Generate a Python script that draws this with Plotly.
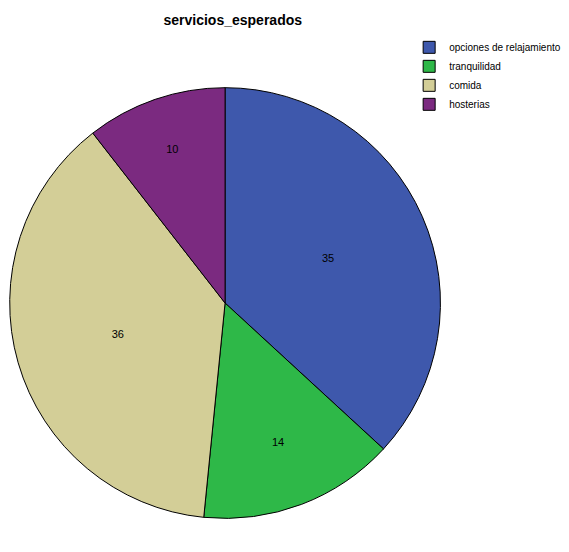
import plotly.graph_objects as go

categories = ["opciones de relajamiento", "tranquilidad", "comida", "hosterias"]
values = [35, 14, 36, 10]
colors = ["#3E58AC", "#2EB848", "#D3CE97", "#7B2A80"]

fig = go.Figure(go.Pie(
    labels=categories,
    values=values,
    sort=False,
    direction="clockwise",
    rotation=0,
    marker=dict(colors=colors, line=dict(color="black", width=1)),
    texttemplate="%{value}",
    textposition="inside",
    insidetextorientation="horizontal",
    textfont=dict(family="Liberation Sans, Arial", size=11, color="black"),
    hoverinfo="label+value",
    domain=dict(x=[0.003, 0.76], y=[0.075, 0.856]),
))

fig.update_layout(
    width=569, height=552,
    margin=dict(l=0, r=0, t=0, b=0),
    paper_bgcolor="white",
    title=dict(text="<b>servicios_esperados</b>", x=0.395, xanchor="center",
               y=0.978, yanchor="middle",
               font=dict(family="Liberation Sans, Arial", size=14, color="black")),
    legend=dict(x=0.705, y=0.955, xanchor="left", yanchor="top",
                font=dict(family="Liberation Sans, Arial", size=10, color="black"),
                tracegroupgap=0, itemwidth=30, bgcolor="rgba(0,0,0,0)"),
)

fig.write_html("out.html")
